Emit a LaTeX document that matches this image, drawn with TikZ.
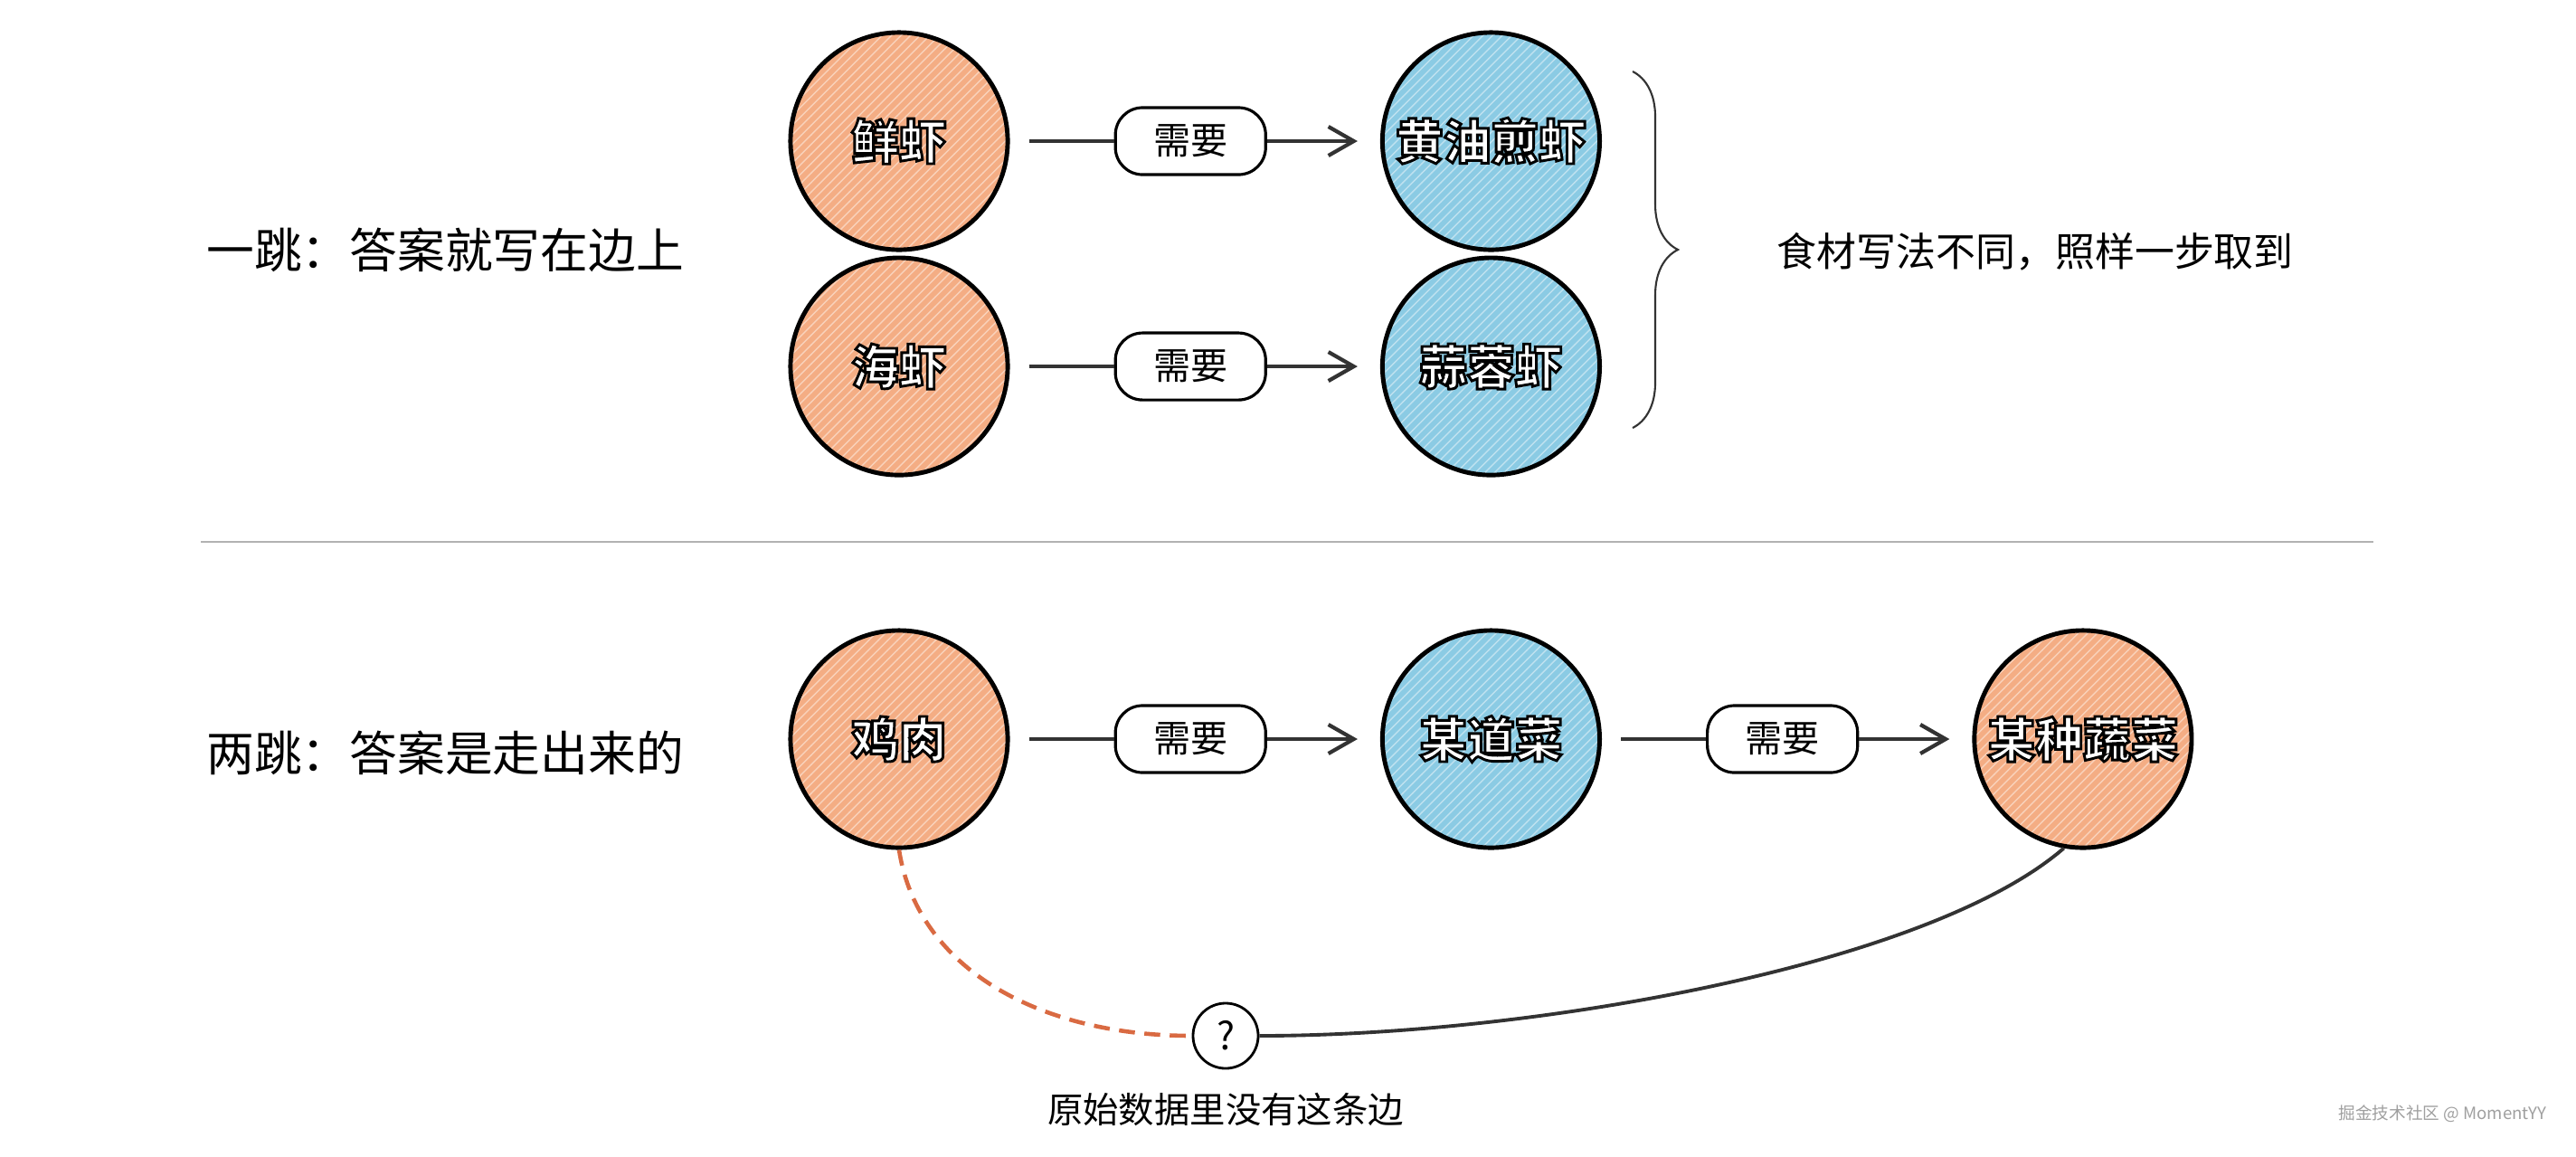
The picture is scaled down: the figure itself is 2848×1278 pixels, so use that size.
\documentclass[tikz,border=0pt]{standalone}
\usepackage{fontspec}
\newfontfamily\cjk{Noto Sans CJK SC}
\newfontfamily\cjkstroke{Noto Sans CJK SC}[FakeBold=5.5]
\usetikzlibrary{patterns, arrows.meta, positioning, decorations.pathreplacing}

\definecolor{shrimp}{HTML}{F4AD84}
\definecolor{dishblue}{HTML}{8BCBE4}
\definecolor{lostred}{HTML}{D96A42}
\definecolor{ink}{HTML}{333333}

\newcommand\outlined[1]{\special{pdf:bcolor [1] [0]}#1\special{pdf:ecolor}}

\begin{document}
\begin{tikzpicture}[x=0.01cm, y=-0.01cm]
					\tikzstyle{node}=[circle, draw=black, line width=1.4pt, minimum size=2.4cm, inner sep=0pt, font=\cjkstroke\bfseries\fontsize{15}{18}\selectfont]
					\tikzstyle{ingredient}=[node, preaction={fill=shrimp}, pattern=north east lines, pattern color=white!45!shrimp]
					\tikzstyle{dish}=[node, preaction={fill=dishblue}, pattern=north east lines, pattern color=white!45!dishblue]
					\tikzstyle{need}=[draw=black, line width=0.9pt, fill=white, rounded corners=0.3cm, minimum width=1.66cm, minimum height=0.74cm, font=\cjk\fontsize{11.7}{14}\selectfont]
					\tikzstyle{link}=[draw=ink, line width=1.2pt]
					\tikzstyle{arrowlink}=[link, -{Straight Barb[length=0.28cm, width=0.32cm]}, shorten >=0.25cm]
					\tikzstyle{label}=[font=\cjk\fontsize{15}{18}\selectfont]
					\useasboundingbox (0,0) rectangle (2848,1278);
					\node (fresh) [ingredient] at (994,156) {\outlined{鲜虾}};
					\node (need1) [need, right=1.15cm of fresh] {需要};
					\node (butter) [dish, right=1.25cm of need1] {\outlined{黄油煎虾}};
					\node (sea) [ingredient, below=0.04cm of fresh] {\outlined{海虾}};
					\node (need2) [need, right=1.15cm of sea] {需要};
					\node (garlic) [dish, right=1.25cm of need2] {\outlined{蒜蓉虾}};
					\draw[link, shorten <=0.21cm] (fresh) -- (need1);
					\draw[arrowlink] (need1) -- (butter);
					\draw[link, shorten <=0.21cm] (sea) -- (need2);
					\draw[arrowlink] (need2) -- (garlic);
					\coordinate (bracetop) at (1805,79);
					\coordinate (bracebottom) at (1805,473);
					\draw[decorate, decoration={brace, amplitude=0.5cm}, ink, line width=0.6pt] (bracetop) -- (bracebottom);
					\node (onehop) [label, anchor=west] at (216,276) {一跳：答案就写在边上};
					\node (sametext) [font=\cjk\fontsize{12.5}{15}\selectfont, anchor=west] at (1952,278) {食材写法不同，照样一步取到};
					\draw[gray!60, line width=0.6pt] (222,599) -- (2624,599);
					\node (chicken) [ingredient] at (994,817) {\outlined{鸡肉}};
					\node (need3) [need, right=1.15cm of chicken] {需要};
					\node (somedish) [dish, right=1.25cm of need3] {\outlined{某道菜}};
					\node (need4) [need, right=1.15cm of somedish] {需要};
					\node (veg) [ingredient, right=1.25cm of need4] {\outlined{某种蔬菜}};
					\draw[link, shorten <=0.21cm] (chicken) -- (need3);
					\draw[arrowlink] (need3) -- (somedish);
					\draw[link, shorten <=0.21cm] (somedish) -- (need4);
					\draw[arrowlink] (need4) -- (veg);
					\node (twohop) [label, anchor=west] at (216,832) {两跳：答案是走出来的};
					\node (q) [circle, draw=black, line width=0.8pt, fill=white, minimum size=0.72cm, inner sep=0pt, font=\cjk\fontsize{12}{14}\selectfont] at (1355,1145) {?};
					\draw[draw=lostred, line width=1.3pt, dash pattern=on 5pt off 3pt] (chicken.south) .. controls +(20,130) and +(-170,0) .. (q.west);
					\draw[ink, line width=1.1pt] (q.east) .. controls +(300,0) and +(-150,130) .. (veg.-100);
					\node (nolink) [font=\cjk\fontsize{11.2}{13}\selectfont] at (1355,1226) {原始数据里没有这条边};
					\node (mark) [anchor=east, text=gray!75, font=\cjk\fontsize{5.3}{7}\selectfont] at (2828,1231) {掘金技术社区 @ MomentYY};
				\end{tikzpicture}
\end{document}
